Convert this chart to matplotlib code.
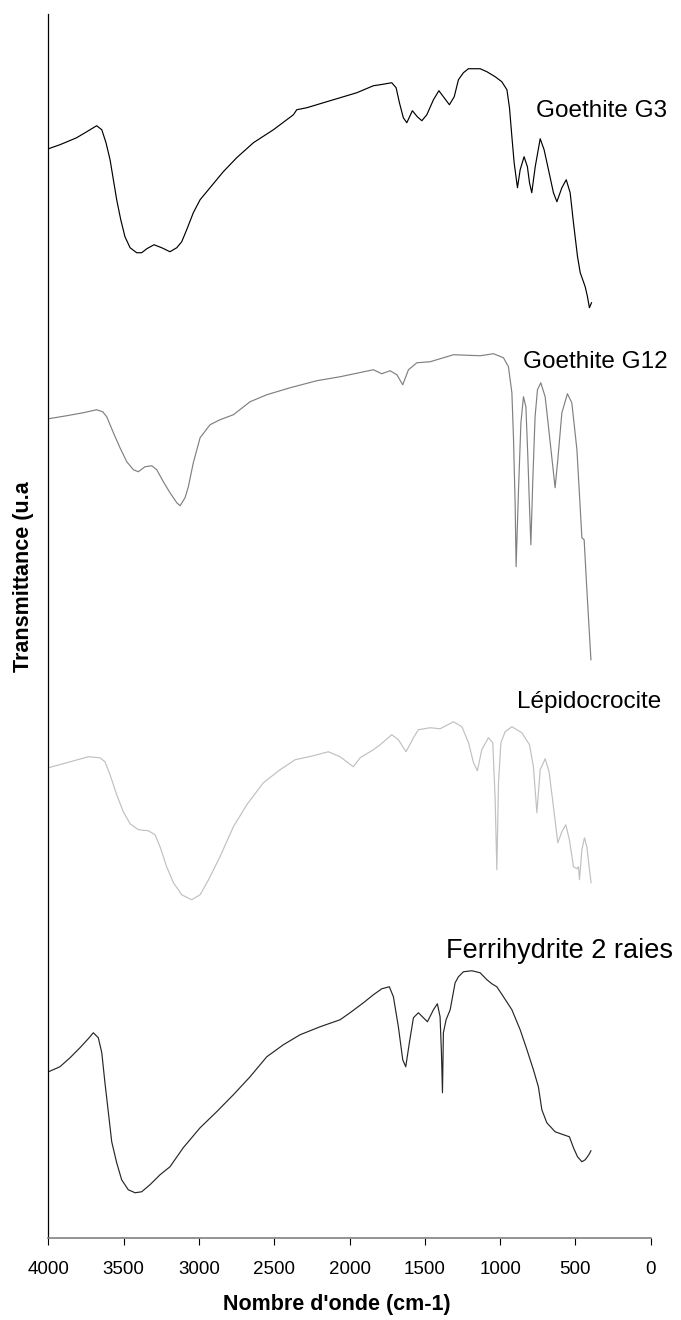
import matplotlib

matplotlib.use("Agg")

import matplotlib.pyplot as plt  # noqa: E402

plt.rcParams["font.family"] = ["Liberation Sans", "DejaVu Sans"]

# IR spectra, wavenumber (cm-1) vs transmittance (arbitrary units, stacked)
g3_wn = [4000, 3924, 3813, 3746, 3680, 3646, 3618, 3591, 3569, 3547, 3520, 3492,
         3458, 3414, 3381, 3347, 3299, 3248, 3193, 3148, 3115, 3082, 3038, 2993,
         2927, 2839, 2750, 2639, 2506, 2373, 2351, 2284, 2174, 2063, 1952, 1842,
         1797, 1720, 1691, 1669, 1643, 1620, 1583, 1550, 1520, 1487, 1443, 1407,
         1372, 1337, 1305, 1277, 1244, 1211, 1133, 1088, 1033, 989, 955, 938,
         922, 907, 885, 867, 841, 819, 805, 790, 767, 734, 708, 679,
         646, 623, 590, 561, 535, 513, 486, 468, 435, 420, 407, 393]
g3_t = [1089, 1093, 1100, 1106, 1112, 1108, 1095, 1078, 1058, 1038, 1018, 1001,
        990, 985, 985, 989, 993, 990, 986, 990, 996, 1008, 1025, 1038,
        1050, 1066, 1080, 1095, 1108, 1123, 1128, 1130, 1135, 1140, 1145, 1152,
        1153, 1155, 1150, 1135, 1120, 1115, 1127, 1121, 1117, 1123, 1138, 1147,
        1140, 1133, 1141, 1158, 1165, 1169, 1169, 1166, 1161, 1156, 1148, 1130,
        1101, 1075, 1050, 1068, 1081, 1071, 1055, 1045, 1071, 1099, 1088, 1068,
        1045, 1036, 1050, 1058, 1045, 1015, 981, 965, 951, 941, 930, 935]

g12_wn = [4000, 3879, 3769, 3680, 3640, 3613, 3569, 3525, 3480, 3436, 3403, 3359,
          3314, 3281, 3237, 3193, 3148, 3126, 3093, 3071, 3038, 2993, 2927, 2861,
          2772, 2661, 2550, 2395, 2218, 2063, 1842, 1786, 1731, 1686, 1647, 1609,
          1553, 1465, 1310, 1133, 1044, 978, 945, 922, 911, 900, 894, 878,
          862, 845, 829, 816, 805, 796, 783, 768, 752, 730, 701, 679,
          650, 635, 617, 590, 553, 524, 490, 457, 442, 424, 397]
g12_t = [819, 822, 825, 828, 826, 821, 805, 790, 776, 768, 766, 771,
         772, 768, 756, 745, 735, 732, 740, 751, 775, 800, 813, 818,
         823, 836, 843, 850, 857, 861, 868, 864, 867, 863, 853, 868,
         875, 876, 883, 882, 884, 880, 871, 845, 798, 731, 671, 748,
         815, 841, 831, 781, 731, 693, 758, 821, 848, 855, 841, 811,
         771, 750, 778, 825, 844, 835, 788, 700, 698, 648, 578]

lepido_wn = [4000, 3879, 3736, 3658, 3625, 3591, 3547, 3503, 3458, 3403, 3337, 3292,
             3259, 3215, 3170, 3115, 3049, 2993, 2937, 2861, 2772, 2683, 2573, 2462,
             2362, 2241, 2141, 2063, 1975, 1930, 1842, 1797, 1720, 1676, 1625, 1576,
             1543, 1465, 1399, 1310, 1254, 1210, 1177, 1151, 1122, 1078, 1049, 1033,
             1022, 1011, 995, 967, 922, 856, 805, 779, 756, 734, 701, 675,
             646, 617, 590, 564, 540, 513, 490, 480, 473, 457, 440, 424, 409, 396]
lepido_t = [470, 475, 481, 480, 476, 463, 443, 426, 414, 408, 407, 403,
            391, 371, 355, 343, 338, 343, 358, 381, 411, 433, 455, 468,
            478, 482, 486, 481, 471, 480, 488, 493, 503, 498, 486, 500,
            508, 510, 509, 516, 511, 495, 475, 467, 488, 500, 495, 438,
            368, 455, 495, 506, 511, 505, 493, 471, 425, 468, 479, 466,
            431, 395, 406, 413, 398, 371, 369, 371, 358, 388, 400, 391, 371, 355]

ferri_wn = [4000, 3924, 3857, 3791, 3736, 3702, 3669, 3646, 3625, 3602, 3580, 3547,
            3514, 3470, 3425, 3381, 3326, 3259, 3193, 3105, 2993, 2883, 2772, 2661,
            2550, 2440, 2329, 2196, 2063, 1997, 1908, 1842, 1786, 1736, 1709, 1676,
            1647, 1627, 1603, 1576, 1543, 1483, 1443, 1417, 1399, 1390, 1383, 1377,
            1359, 1332, 1299, 1277, 1244, 1188, 1133, 1088, 1055, 1022, 978, 922,
            867, 822, 779, 746, 723, 690, 635, 579, 540, 513, 486, 457,
            435, 420, 407, 397]
ferri_t = [166, 171, 180, 190, 199, 205, 200, 185, 155, 125, 96, 75,
           58, 48, 45, 46, 53, 63, 71, 90, 110, 126, 143, 161,
           181, 193, 203, 211, 218, 225, 235, 243, 249, 251, 241, 211,
           178, 171, 195, 220, 225, 216, 228, 234, 221, 185, 145, 205,
           218, 228, 255, 261, 266, 267, 265, 258, 254, 251, 241, 228,
           208, 188, 168, 151, 128, 115, 106, 103, 101, 90, 81, 76,
           78, 81, 84, 87]

sample_names = ["Goethite G3", "Goethite G12", "Lépidocrocite", "Ferrihydrite 2 raies"]
line_colors = ["#000000", "#808080", "#c0c0c0", "#262626"]
# anchor (wavenumber, baseline value) of each sample name
name_x = [761, 847, 887, 1359]
name_y = [1121, 870, 530, 280]
name_size = [17.5, 17.5, 17.5, 19.5]

fig, ax = plt.subplots(figsize=(6.81, 13.2), dpi=100)
fig.subplots_adjust(left=0.0712, right=0.9555, bottom=0.0623, top=0.9896)

spectra = [(g3_wn, g3_t), (g12_wn, g12_t), (lepido_wn, lepido_t), (ferri_wn, ferri_t)]
for (wn, t), color in zip(spectra, line_colors):
    ax.plot(wn, t, color=color, linewidth=0.85, solid_joinstyle="round")

for name, x, y, size in zip(sample_names, name_x, name_y, name_size):
    ax.text(x, y, name, fontsize=size, ha="left", va="baseline")

ax.set_xlim(4000, 0)
ax.set_ylim(0, 1224)
ax.set_xticks(range(4000, -1, -500))
ax.set_yticks([])
ax.tick_params(axis="x", direction="out", length=5, width=0.8, pad=12,
               labelsize=13.5, colors="#000000")

for side in ("top", "right"):
    ax.spines[side].set_visible(False)
ax.spines["left"].set_linewidth(0.9)
ax.spines["bottom"].set_color("#808080")
ax.spines["bottom"].set_linewidth(1.2)

ax.set_xlabel("Nombre d'onde (cm-1)", fontsize=15.5, fontweight="bold")
ax.set_ylabel("Transmittance (u.a", fontsize=15.5, fontweight="bold")
ax.xaxis.set_label_coords(0.479, -0.046)
ax.yaxis.set_label_coords(-0.024, 0.54)

fig.savefig("out.png", dpi=100)
plt.close(fig)
